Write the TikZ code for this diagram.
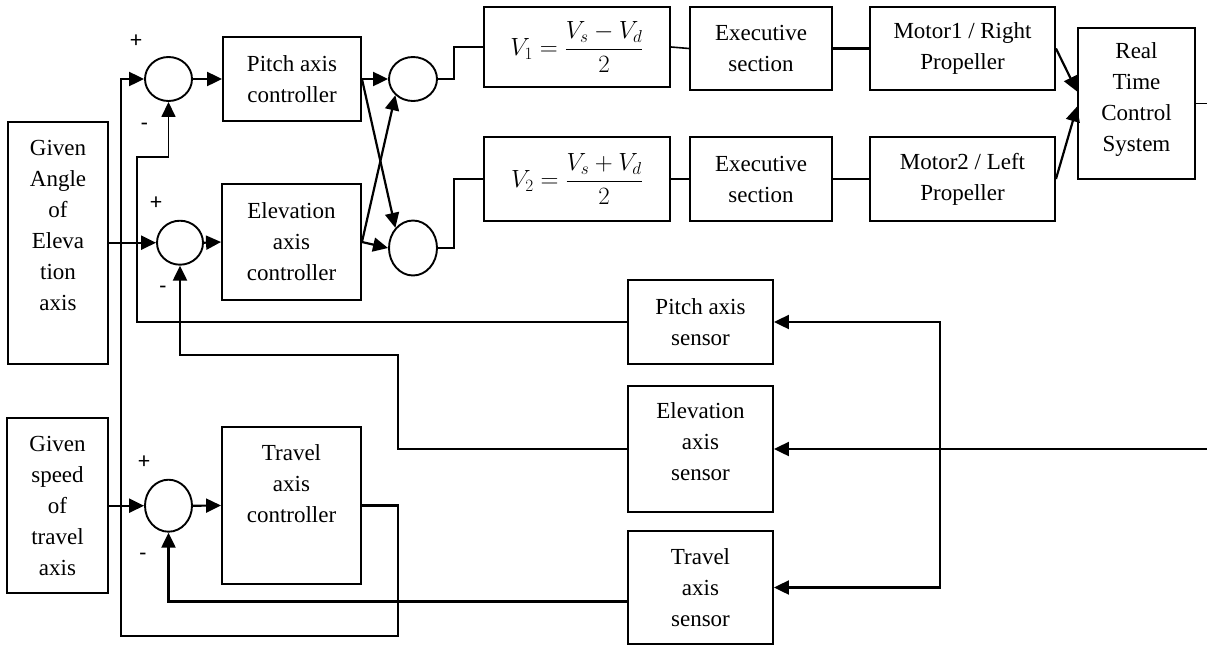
\documentclass[tikz,border=0pt]{standalone}
\usepackage{fontspec}
\setmainfont{Liberation Serif}
\newfontfamily\signfont{Carlito}
\usetikzlibrary{arrows.meta,shapes.geometric,calc}
\begin{document}
\begin{tikzpicture}[x=1pt,y=-1pt,
  box/.style={draw, line width=1.9pt, inner sep=0pt, align=center, font=\fontsize{23}{31}\selectfont},
  txt/.style={inner sep=0pt, align=center, font=\fontsize{23}{31}\selectfont},
  sumc/.style={draw, ellipse, line width=1.9pt, inner sep=0pt},
  arr/.style={line width=2.2pt, -{Triangle[length=15pt,width=14pt]}},
  ln/.style={line width=2.2pt},
  thinln/.style={line width=1.6pt},
  sgn/.style={inner sep=0pt, font=\signfont\fontsize{23}{23}\selectfont}]
\useasboundingbox (0,0) rectangle (1207,646);

% input boxes
\node[box, minimum width=100pt, minimum height=242pt] (ga) at (58,243) {};
\node[txt] (gat) at (58,225) {Given\\Angle\\of\\Eleva\\tion\\axis};
\node[box, minimum width=101pt, minimum height=175pt] (gs) at (57.5,505.5) {Given\\speed\\of\\travel\\axis};

% summing junctions
\node[sumc, minimum width=47pt, minimum height=44pt] (s1) at (168.5,79) {};
\node[sumc, minimum width=46pt, minimum height=44pt] (s2) at (180,242.7) {};
\node[sumc, minimum width=47pt, minimum height=52pt] (s3) at (168.5,505.7) {};

% signs
\node[sgn] (p1) at (136,41) {+};
\node[sgn] (n1) at (144.5,127) {-};
\node[sgn] (p2) at (156,203) {+};
\node[sgn] (n2) at (163,290) {-};
\node[sgn] (p3) at (144,462) {+};
\node[sgn] (n3) at (143,557) {-};

% controllers
\node[box, minimum width=138pt, minimum height=84pt] (pc) at (292,79) {Pitch axis\\controller};
\node[box, minimum width=139pt, minimum height=116pt] (ec) at (291.5,242) {Elevation\\axis\\controller};
\node[box, minimum width=139pt, minimum height=157pt] (tc) at (291.5,505.5) {};
\node[txt] (tct) at (291.5,484) {Travel\\axis\\controller};

% mixers
\node[sumc, minimum width=48pt, minimum height=44pt] (m1) at (413,79) {};
\node[sumc, minimum width=48pt, minimum height=55pt] (m2) at (413,248) {};

% voltage boxes
\node[box, minimum width=186pt, minimum height=80pt] (v1) at (577,47) {$\displaystyle V_1=\frac{V_s-V_d}{2}$};
\node[box, minimum width=186pt, minimum height=84pt] (v2) at (577,179) {$\displaystyle V_2=\frac{V_s+V_d}{2}$};

% executive sections
\node[box, minimum width=142pt, minimum height=83pt] (x1) at (761,48.5) {Executive\\section};
\node[box, minimum width=142pt, minimum height=84pt] (x2) at (761,179) {Executive\\section};

% motors
\node[box, minimum width=185pt, minimum height=83pt] (mo1) at (962.5,48.5) {Motor1 / Right\\Propeller};
\node[box, minimum width=185pt, minimum height=84pt] (mo2) at (962.5,179) {Motor2 / Left\\Propeller};

% real time control system
\node[box, minimum width=117pt, minimum height=151pt] (rt) at (1136.5,103.5) {};
\node[txt] (rtt) at (1136.5,99) {Real\\Time\\Control\\System};

% sensors
\node[box, minimum width=145pt, minimum height=84pt] (ps) at (700.5,322) {Pitch axis\\sensor};
\node[box, minimum width=145pt, minimum height=126pt] (es) at (700.5,449) {};
\node[txt] (est) at (700.5,442) {Elevation\\axis\\sensor};
\node[box, minimum width=145pt, minimum height=113pt] (ts) at (700.5,587.5) {Travel\\axis\\sensor};

% edge / junction coordinates
\coordinate (rte) at (1207,103.5);
\coordinate (ee) at (1207,449);
\coordinate (j) at (940,449);

% forward paths
\draw[arr] (ga.east |- s2.west) -- (s2.west);
\draw[arr] (gs.east |- s3.west) -- (s3.west);
\draw[arr] (s1.east) -- (pc.west);
\draw[arr] (s2.east) -- (ec.west);
\draw[arr] (s3.east) -- (tc.west);
\draw[arr] (pc.east) -- (m1.west);
\draw[arr] (pc.east) -- (m2.north west);
\draw[arr] (ec.east) -- (m2.west);
\draw[arr] (ec.east) -- (m1.south west);
\draw[ln] (m1.east) -- ++(16,0) |- (v1.west);
\draw[ln] (m2.east) -- ++(16,0) |- (v2.west);
\draw[thinln] (v1.east) -- (x1.west);
\draw[thinln] (v2.east) -- (x2.west);
\draw[ln] (x1.east) -- (mo1.west);
\draw[ln] (x2.east) -- (mo2.west);
\draw[arr] (mo1.east) -- ([yshift=12pt]rt.west);
\draw[arr] (mo2.east) -- ([yshift=-3pt]rt.west);
\draw[thinln] (rt.east) -- (rte);

% sensor feeds
\draw[arr] (ee) -- (es.east);
\draw[arr] (j) |- (ps.east);
\draw[arr] (j) |- (ts.east);

% feedback paths
\draw[thinln,-{Triangle[length=15pt,width=14pt]}] (ps.west) -| (137,157) -| (s1.south);
\draw[arr] (es.west) -| (398,355) -| (s2.south);
\draw[arr] ([yshift=-14pt]ts.west) -| (s3.south);
\draw[arr] (tc.east) -| (398,636) -| (121,79) -- (s1.west);
\end{tikzpicture}
\end{document}
